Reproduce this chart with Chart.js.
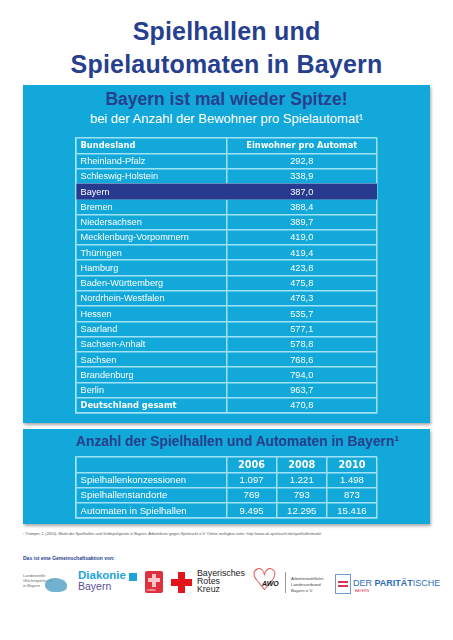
<!DOCTYPE html>
<html lang="de">
<head>
<meta charset="utf-8">
<title>Spielhallen und Spielautomaten in Bayern</title>
<script src="https://cdn.jsdelivr.net/npm/chart.js@4.4.1/dist/chart.umd.min.js"></script>
<style>
  html, body { margin: 0; padding: 0; background: #fff; }
  body { width: 453px; height: 640px; position: relative; overflow: hidden; font-family: "Liberation Sans", Arial, sans-serif; }
  .abs { position: absolute; }
  h1 { position: absolute; left: 0; top: 15px; width: 453px; margin: 0; text-align: center;
       font-size: 25px; line-height: 33px; color: #263f8e; font-weight: bold; letter-spacing: 0.2px; }
  .panel { position: absolute; left: 23px; width: 407px; background: #12a8d9; box-shadow: 1px 2px 3px rgba(0,0,0,0.35); }
  .titel { position: absolute; left: 0; width: 100%; text-align: center; color: #263f8e; font-weight: bold; white-space: nowrap; }
  .untertitel { position: absolute; left: 0; width: 100%; text-align: center; color: #fff; font-size: 13px; white-space: nowrap; }
  canvas { position: absolute; }
  .fuss { left: 23px; top: 532px; font-size: 3.8px; color: #555; white-space: nowrap; }
  .aktion { left: 23px; top: 555px; font-size: 5px; font-weight: bold; color: #263f8e; white-space: nowrap; }
  .klein { font-size: 4px; line-height: 5px; color: #666; white-space: nowrap; }
</style>
</head>
<body>
<h1>Spielhallen und<br>Spielautomaten in Bayern</h1>

<div class="panel" style="top:85px;height:338px;">
  <div class="titel" style="top:4px;font-size:17.5px;">Bayern ist mal wieder Spitze!</div>
  <div class="untertitel" style="top:26px;">bei der Anzahl der Bewohner pro Spielautomat¹</div>
</div>
<canvas id="tabelle1" width="305" height="279" style="left:74px;top:136px;"></canvas>

<div class="panel" style="top:429px;height:95px;">
  <div class="titel" style="top:5px;font-size:13.8px;left:11px;">Anzahl der Spielhallen und Automaten in Bayern¹</div>
</div>
<canvas id="tabelle2" width="305" height="65" style="left:74px;top:455px;"></canvas>

<div class="abs fuss">¹ Trümper, J. (2010). Markt der Spielhallen und Geldspielgeräte in Bayern. Arbeitskreis gegen Spielsucht e.V. Online verfügbar unter: http://www.ak-spielsucht.de/spielhallenmarkt</div>
<div class="abs aktion">Das ist eine Gemeinschaftsaktion von:</div>

<!-- Partnerlogos -->
<div class="abs klein" style="left:23px;top:573px;">Landesstelle<br>Glücksspielsucht<br>in Bayern</div>
<div class="abs" style="left:45px;top:578px;width:22px;height:14px;border-radius:50% 60% 40% 50%;background:#5aa3c8;opacity:0.85;"></div>
<div class="abs" style="left:78px;top:569px;font-size:11.5px;font-weight:bold;color:#1ea3db;">Diakonie</div>
<div class="abs" style="left:129px;top:573px;width:8px;height:8px;background:#1ea3db;"></div>
<div class="abs" style="left:78px;top:580px;font-size:10.5px;color:#5b4f9c;">Bayern</div>
<div class="abs" style="left:145px;top:571px;width:18px;height:22px;border-radius:2px;background:#e0303d;"></div>
<div class="abs" style="left:152px;top:574px;width:4px;height:13px;background:#f6c6cb;"></div>
<div class="abs" style="left:148px;top:578px;width:12px;height:4px;background:#f6c6cb;"></div>
<div class="abs" style="left:147px;top:588px;font-size:3px;color:#fff;">caritas</div>
<div class="abs" style="left:178px;top:572px;width:7px;height:21px;background:#e3141b;"></div>
<div class="abs" style="left:171px;top:579px;width:21px;height:7px;background:#e3141b;"></div>
<div class="abs" style="left:197px;top:569px;font-size:8.8px;line-height:8px;color:#222;">Bayerisches<br>Rotes<br>Kreuz</div>
<div class="abs" style="left:251px;top:565px;font-size:30px;line-height:30px;color:#d8232a;">♡</div>
<div class="abs" style="left:262px;top:580px;font-size:7px;font-weight:bold;font-style:italic;color:#111;">AWO</div>
<div class="abs" style="left:285px;top:572px;width:1px;height:21px;background:#999;"></div>
<div class="abs klein" style="left:291px;top:576px;font-size:4.3px;line-height:6px;color:#444;">Arbeiterwohlfahrt<br>Landesverband<br>Bayern e.V.</div>
<div class="abs" style="left:335px;top:574px;width:14px;height:18px;border:1px solid #6e9cc7;"></div>
<div class="abs" style="left:338px;top:581px;width:10px;height:2px;background:#d4345a;"></div>
<div class="abs" style="left:338px;top:585px;width:10px;height:2px;background:#d4345a;"></div>
<div class="abs" style="left:353px;top:578px;font-size:9px;color:#2f6fb7;white-space:nowrap;">DER <b>PARITÄT</b>ISCHE</div>
<div class="abs" style="left:355px;top:589px;font-size:3.5px;color:#d4345a;">BAYERN</div>

<script>
// Tabelle 1: Einwohner pro Spielautomat
const kopf1 = ["Bundesland", "Einwohner pro Automat"];
const bundeslaender = [
  "Rheinland-Pfalz", "Schleswig-Holstein", "Bayern", "Bremen", "Niedersachsen",
  "Mecklenburg-Vorpommern", "Thüringen", "Hamburg", "Baden-Württemberg",
  "Nordrhein-Westfalen", "Hessen", "Saarland", "Sachsen-Anhalt", "Sachsen",
  "Brandenburg", "Berlin", "Deutschland gesamt"
];
const einwohnerProAutomat = [
  292.8, 338.9, 387.0, 388.4, 389.7, 419.0, 419.4, 423.8, 475.8,
  476.3, 535.7, 577.1, 578.8, 768.6, 794.0, 963.7, 470.8
];
const hervorgehoben = "Bayern";

// Tabelle 2: Spielhallen und Automaten in Bayern
const jahre = ["2006", "2008", "2010"];
const kennzahlen = ["Spielhallenkonzessionen", "Spielhallenstandorte", "Automaten in Spielhallen"];
const werte2006 = [1097, 769, 9495];
const werte2008 = [1221, 793, 12295];
const werte2010 = [1498, 873, 15416];

const navy = "#283a8e";
const linie = "#9fe2f6";
const schrift = '"Liberation Sans", Arial, sans-serif';

// deutsche Zahlenschreibweise
function deZahl(v, dez) {
  const teile = v.toFixed(dez).split(".");
  const ganz = teile[0].replace(/\B(?=(\d{3})+(?!\d))/g, ".");
  return teile[1] ? ganz + "," + teile[1] : ganz;
}

function achsen(xMax, grenzen) {
  return {
    x: {
      type: "linear", min: 0, max: xMax, z: 1,
      ticks: { display: false },
      afterBuildTicks: (s) => { s.ticks = grenzen.map((v) => ({ value: v })); },
      grid: { color: linie, lineWidth: 1.5, drawTicks: false },
      border: { color: linie, width: 1.5 }
    },
    y: {
      type: "category", z: 1,
      ticks: { display: false },
      grid: { offset: true, color: linie, lineWidth: 1.5, drawTicks: false },
      border: { color: linie, width: 1.5 }
    }
  };
}

const basis = {
  indexAxis: "y",
  responsive: false,
  animation: false,
  devicePixelRatio: 1,
  layout: { padding: 2 },
  plugins: { legend: { display: false }, tooltip: { enabled: false } }
};

const zeilen1 = [kopf1[0]].concat(bundeslaender);

const text1 = {
  id: "text1",
  afterDraw(chart) {
    const ctx = chart.ctx, xs = chart.scales.x, ys = chart.scales.y;
    const links = xs.getPixelForValue(0) + 4.5;
    const mitte = xs.getPixelForValue(0.75);
    ctx.save();
    ctx.fillStyle = "#fff";
    ctx.textBaseline = "middle";
    zeilen1.forEach((name, i) => {
      const y = ys.getPixelForValue(i) + 0.5;
      if (i === 0) {
        ctx.font = 'bold 8.3px "DejaVu Sans"';
        ctx.textAlign = "left";
        ctx.fillText(kopf1[0], links, y);
        ctx.textAlign = "center";
        ctx.fillText(kopf1[1], mitte, y);
        return;
      }
      const letzte = i === zeilen1.length - 1;
      ctx.font = letzte ? 'bold 8.3px "DejaVu Sans"' : "9.2px " + schrift;
      ctx.textAlign = "left";
      ctx.fillText(name, links, y);
      ctx.font = "9.2px " + schrift;
      ctx.textAlign = "center";
      ctx.fillText(deZahl(einwohnerProAutomat[i - 1], 1), mitte, y);
    });
    ctx.restore();
  }
};

new Chart(document.getElementById("tabelle1"), {
  type: "bar",
  data: {
    labels: zeilen1,
    datasets: [{
      data: zeilen1.map((n) => (n === hervorgehoben ? [0, 1] : null)),
      backgroundColor: navy,
      borderWidth: 0,
      barPercentage: 1,
      categoryPercentage: 1
    }]
  },
  options: Object.assign({}, basis, { scales: achsen(1, [0, 0.5, 1]) }),
  plugins: [text1]
});

const zeilen2 = [""].concat(kennzahlen);
const spalten2 = [werte2006, werte2008, werte2010];

const text2 = {
  id: "text2",
  afterDraw(chart) {
    const ctx = chart.ctx, xs = chart.scales.x, ys = chart.scales.y;
    const links = xs.getPixelForValue(0) + 4.5;
    ctx.save();
    ctx.fillStyle = "#fff";
    ctx.textBaseline = "middle";
    jahre.forEach((j, k) => {
      ctx.font = 'bold 9.7px "DejaVu Sans"';
      ctx.textAlign = "center";
      ctx.fillText(j, xs.getPixelForValue(3.5 + k), ys.getPixelForValue(0) + 0.5);
    });
    kennzahlen.forEach((name, i) => {
      const y = ys.getPixelForValue(i + 1) + 0.5;
      ctx.font = "9.6px " + schrift;
      ctx.textAlign = "left";
      ctx.fillText(name, links, y);
      ctx.textAlign = "center";
      spalten2.forEach((werte, k) => {
        ctx.fillText(deZahl(werte[i], 0), xs.getPixelForValue(3.5 + k), y);
      });
    });
    ctx.restore();
  }
};

new Chart(document.getElementById("tabelle2"), {
  type: "bar",
  data: { labels: zeilen2, datasets: [{ data: zeilen2.map(() => null) }] },
  options: Object.assign({}, basis, { scales: achsen(6, [0, 3, 4, 5, 6]) }),
  plugins: [text2]
});
</script>
</body>
</html>
